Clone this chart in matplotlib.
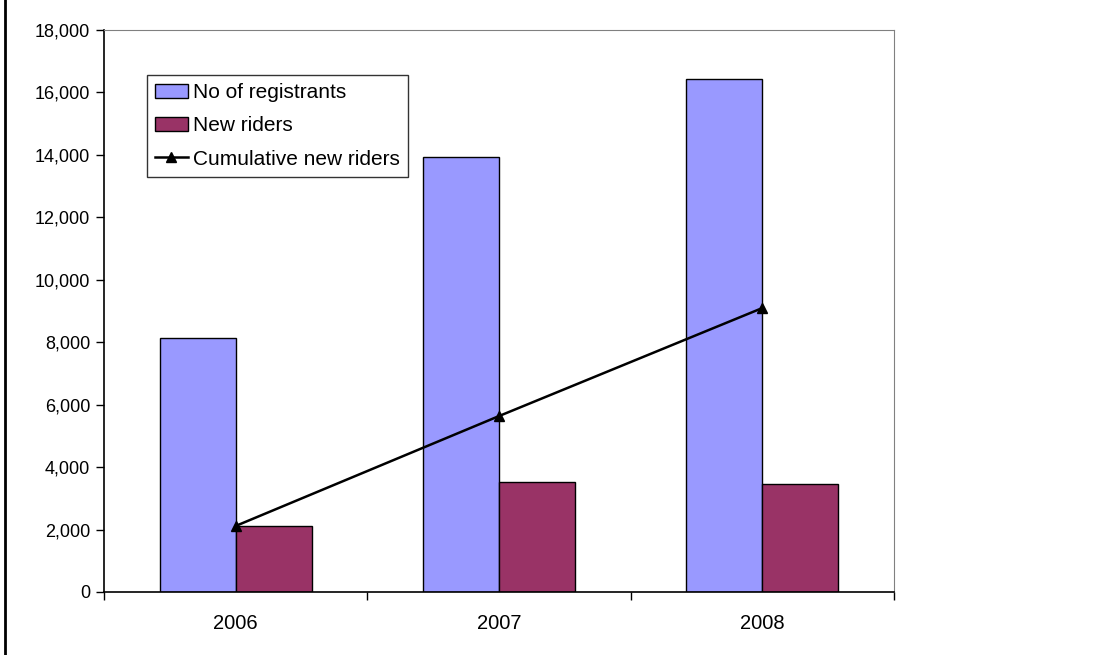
import matplotlib.pyplot as plt
import numpy as np
from matplotlib.lines import Line2D
from matplotlib.ticker import FuncFormatter, FixedLocator

plt.rcParams["font.family"] = ["Liberation Sans", "DejaVu Sans"]

years = ["2006", "2007", "2008"]
registrants = [8120, 13930, 16430]
new_riders = [2115, 3520, 3460]
cumulative = [2115, 5635, 9095]

blue = "#9999FF"
plum = "#993366"

fig = plt.figure(figsize=(11.09, 6.55), dpi=100)
ax = fig.add_axes([104 / 1109, 1 - 592 / 655, 790 / 1109, 562 / 655])

x = np.arange(len(years))
width = 0.288
b1 = ax.bar(x - width / 2, registrants, width, color=blue, edgecolor="black", linewidth=1, zorder=2)
b2 = ax.bar(x + width / 2, new_riders, width, color=plum, edgecolor="black", linewidth=1, zorder=2)
(ln,) = ax.plot(x, cumulative, color="black", linewidth=1.8, marker="^", markersize=7, zorder=3)

ax.set_xlim(-0.5, len(years) - 0.5)
ax.set_ylim(0, 18000)
ax.set_yticks(np.arange(0, 18001, 2000))
ax.yaxis.set_major_formatter(FuncFormatter(lambda v, p: f"{int(v):,}"))
ax.set_xticks(x)
ax.set_xticklabels(years)
ax.xaxis.set_minor_locator(FixedLocator(np.arange(-0.5, len(years), 1.0)))
ax.tick_params(axis="x", which="major", length=0, pad=16, labelsize=14.5)
ax.tick_params(axis="x", which="minor", length=6, width=1, color="black", direction="out")
ax.tick_params(axis="y", length=6, width=1, color="black", direction="out", pad=4, labelsize=13)

for side in ["top", "right"]:
    ax.spines[side].set_color("#808080")
for side in ["left", "bottom"]:
    ax.spines[side].set_color("black")
    ax.spines[side].set_linewidth(1.2)

leg = ax.legend(
    [b1, b2, ln], ["No of registrants", "New riders", "Cumulative new riders"],
    loc="upper left",
    bbox_to_anchor=(0.054, 0.92),
    frameon=True,
    fancybox=False,
    edgecolor="black",
    fontsize=15,
    handlelength=1.58,
    handleheight=0.7,
    handletextpad=0.25,
    labelspacing=0.68,
    borderpad=0.4,
    borderaxespad=0,
)
leg.get_frame().set_linewidth(1)

fig.add_artist(Line2D([4.5 / 1109, 4.5 / 1109], [0, 1], color="black", linewidth=2, transform=fig.transFigure))

fig.savefig("out.png", dpi=100)
